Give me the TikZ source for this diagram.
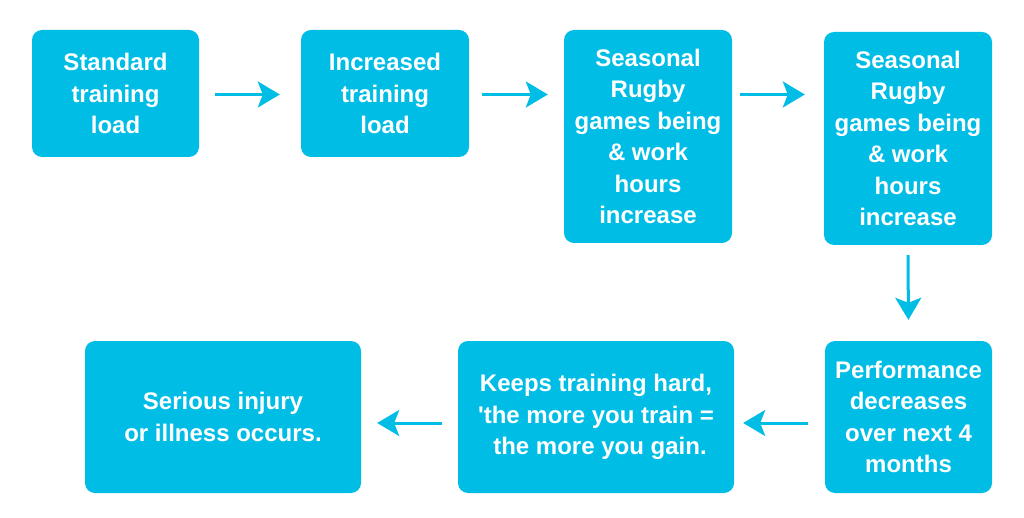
\documentclass[tikz,border=0pt]{standalone}
\usepackage{fontspec}
\newfontfamily\boxfont{Liberation Sans}
\usetikzlibrary{arrows.meta}
\definecolor{cyanbox}{HTML}{00BDE6}
\tikzset{
  stepbox/.style={fill=cyanbox, draw=none, rounded corners=10pt, text=white,
    font=\boxfont\bfseries\fontsize{24}{31.5}\selectfont, align=center, inner sep=0pt},
  flow/.style={draw=cyanbox, line width=3pt, -{Stealth[length=22pt,width=26pt,inset=5pt]}}
}
\begin{document}
\begin{tikzpicture}[x=1pt,y=1pt]
\useasboundingbox (0,0) rectangle (1024,-518);
\node[stepbox, minimum width=167pt, minimum height=127pt] (b1) at (115.5,-93.5) {Standard\\training\\load};
\node[stepbox, minimum width=168pt, minimum height=127pt] (b2) at (385,-93.5) {Increased\\training\\load};
\node[stepbox, minimum width=168pt, minimum height=213pt] (b3) at (648,-136.5) {Seasonal\\Rugby\\games being\\\& work\\hours\\increase};
\node[stepbox, minimum width=168pt, minimum height=213pt] (b4) at (908,-138.5) {Seasonal\\Rugby\\games being\\\& work\\hours\\increase};
\node[stepbox, minimum width=167pt, minimum height=152pt] (b5) at (908.5,-417) {Performance\\decreases\\over next 4\\months};
\node[stepbox, minimum width=276pt, minimum height=152pt] (b6) at (596,-417) {Keeps training hard,\\'the more you train =\\\hspace*{8pt}the more you gain.};
\node[stepbox, minimum width=276pt, minimum height=152pt] (b7) at (223,-417) {Serious injury\\or illness occurs.};
\coordinate (r) at (0,-94.5);
\draw[flow, shorten <=16pt, shorten >=21pt] (b1.east |- r) -- (b2.west |- r);
\draw[flow, shorten <=13pt, shorten >=16pt] (b2.east |- r) -- (b3.west |- r);
\draw[flow, shorten <=8pt, shorten >=19pt] (b3.east |- r) -- (b4.west |- r);
\draw[flow, shorten <=10pt, shorten >=21pt] (b4.south) -- (b5.north);
\coordinate (s) at (0,-423);
\draw[flow, shorten <=17pt, shorten >=9pt] (b5.west |- s) -- (b6.east |- s);
\draw[flow, shorten <=16pt, shorten >=16pt] (b6.west |- s) -- (b7.east |- s);
\end{tikzpicture}
\end{document}
